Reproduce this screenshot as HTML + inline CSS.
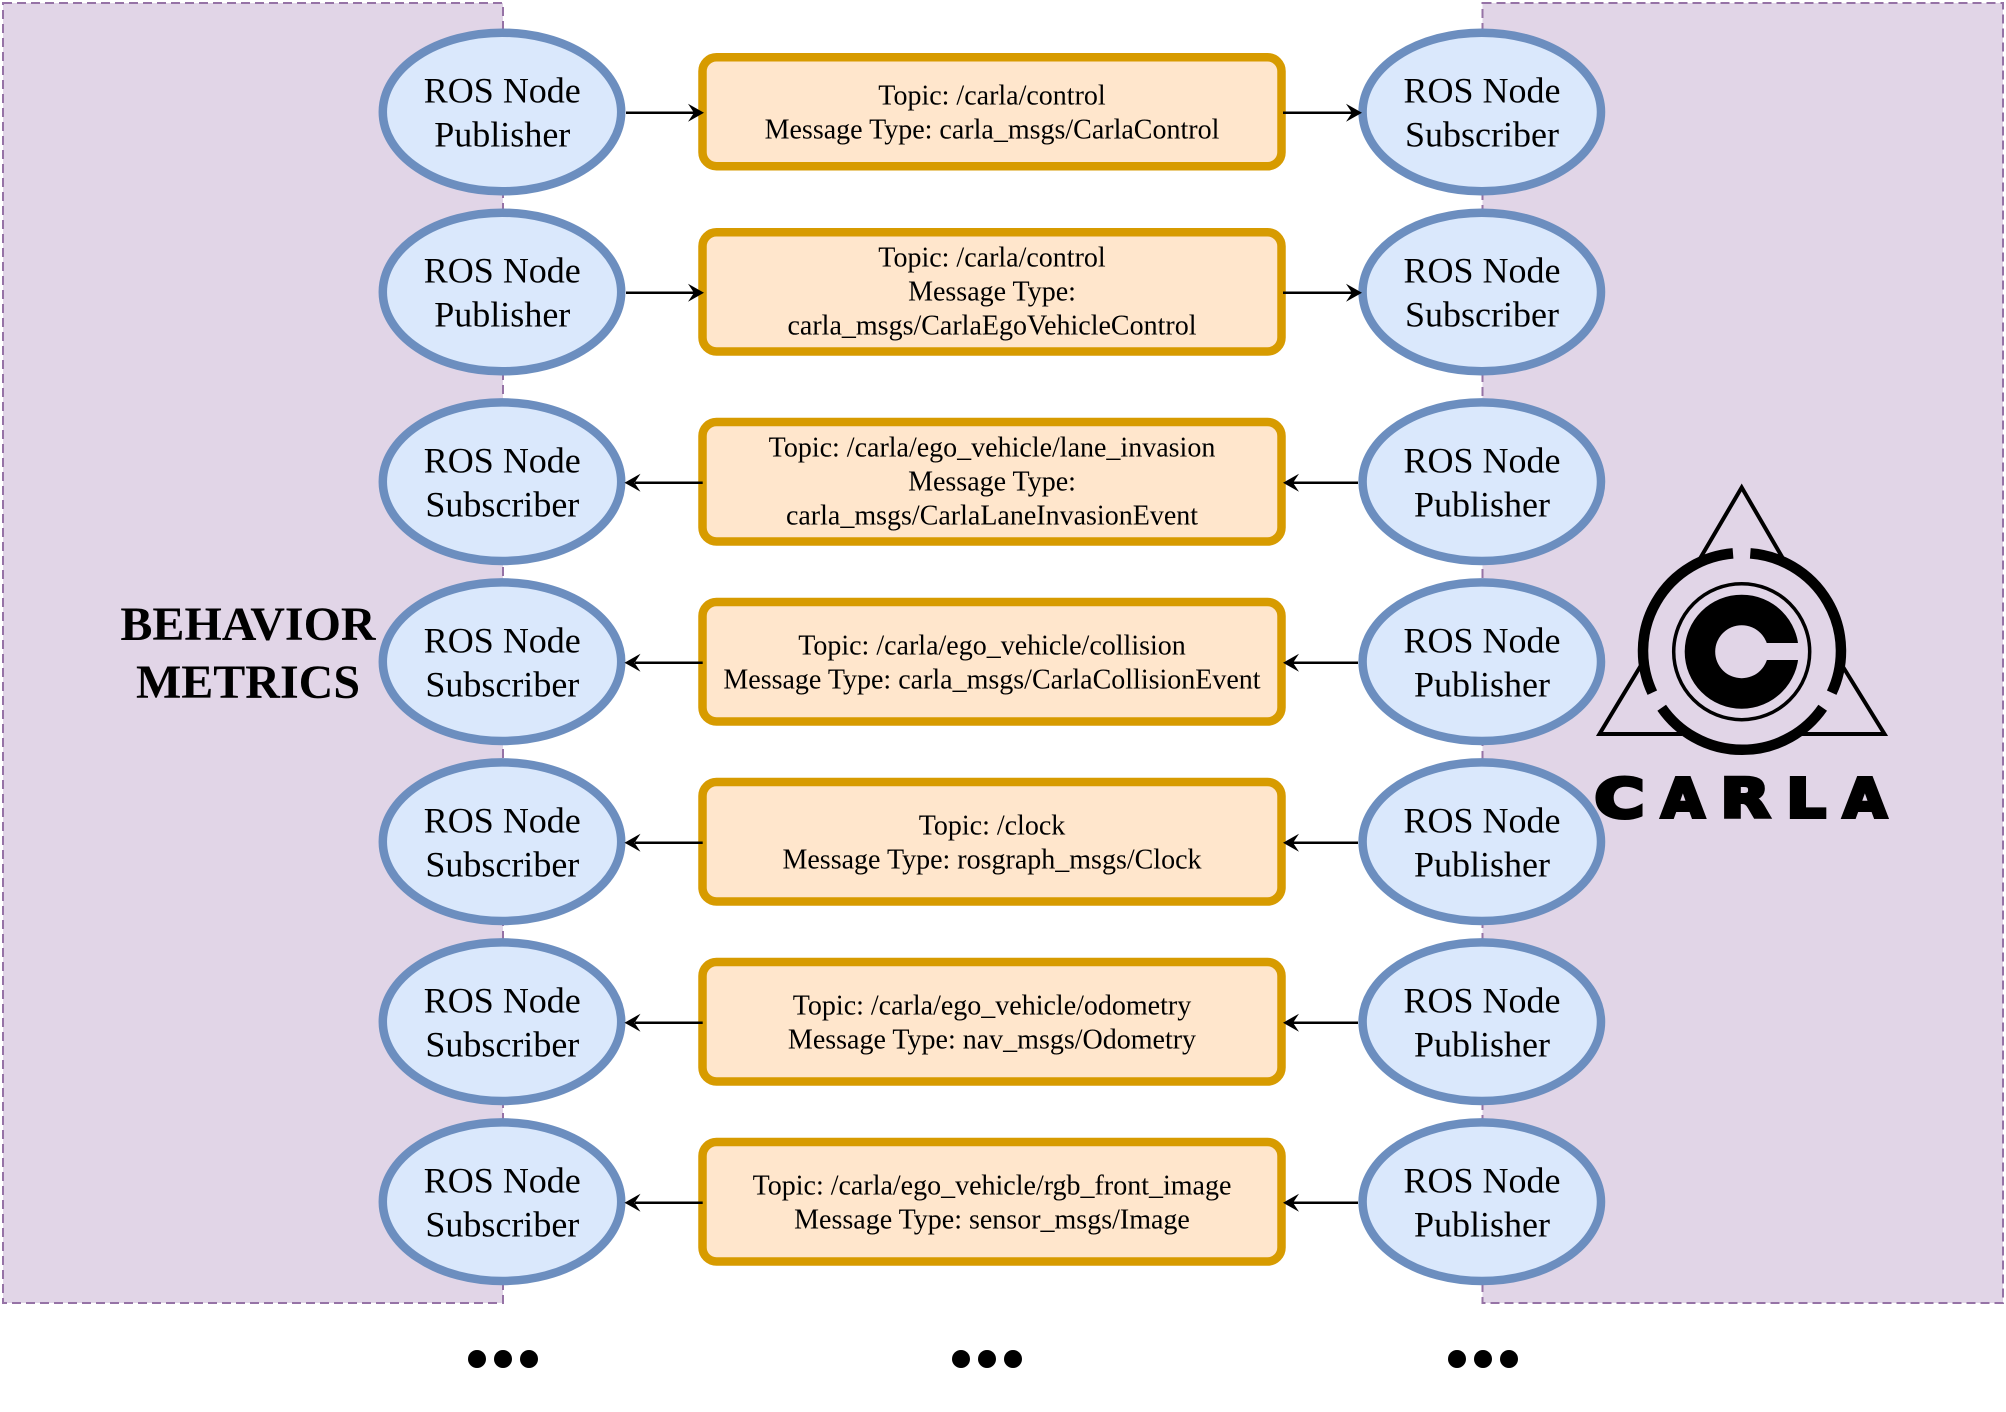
<!DOCTYPE html>
<html><head><meta charset="utf-8"><style>html,body{margin:0;padding:0;background:#fff}svg{display:block}
text{font-family:"Liberation Serif",serif;fill:#000;text-anchor:middle}
.n{font-size:36px}.b{font-size:28px}</style></head><body>
<svg width="2006" height="1412" viewBox="0 0 2006 1412" xmlns="http://www.w3.org/2000/svg">
<defs><g id="e"><ellipse cx="0" cy="0" rx="119.2" ry="79.3" fill="#dae8fc" stroke="#6c8ebf" stroke-width="8.5"/></g>
<path id="ah" d="M0 0 L-16 -9 L-10 0 L-16 9 Z" fill="#000"/></defs>
<rect x="3" y="3" width="500" height="1300" fill="#e1d5e7" stroke="#9673a6" stroke-width="2" stroke-dasharray="9 5"/>
<rect x="1482.5" y="3" width="520.5" height="1300" fill="#e1d5e7" stroke="#9673a6" stroke-width="2" stroke-dasharray="9 5"/>

<!-- ellipses -->
<use href="#e" x="502" y="112"/><use href="#e" x="1481.8" y="112"/>
<use href="#e" x="502" y="292"/><use href="#e" x="1481.8" y="292"/>
<use href="#e" x="502" y="481.7"/><use href="#e" x="1481.8" y="481.7"/>
<use href="#e" x="502" y="661.7"/><use href="#e" x="1481.8" y="661.7"/>
<use href="#e" x="502" y="841.7"/><use href="#e" x="1481.8" y="841.7"/>
<use href="#e" x="502" y="1021.7"/><use href="#e" x="1481.8" y="1021.7"/>
<use href="#e" x="502" y="1201.7"/><use href="#e" x="1481.8" y="1201.7"/>

<!-- boxes -->
<g fill="#ffe6cc" stroke="#d79b00" stroke-width="8.5">
<rect x="702.5" y="57.25" width="579" height="109" rx="14"/>
<rect x="702.5" y="232.25" width="579" height="119.2" rx="14"/>
<rect x="702.5" y="422" width="579" height="119.5" rx="14"/>
<rect x="702.5" y="602" width="579" height="119.5" rx="14"/>
<rect x="702.5" y="782" width="579" height="119.5" rx="14"/>
<rect x="702.5" y="962" width="579" height="119.5" rx="14"/>
<rect x="702.5" y="1142" width="579" height="119.5" rx="14"/>
</g>

<!-- connectors -->
<g stroke="#000" stroke-width="2.5">
<path d="M626 112.7H694M1283 112.7H1352M626 292.7H694M1283 292.7H1352"/>
<path d="M635 482.7H702.7M1293 482.7H1358M635 662.7H702.7M1293 662.7H1358M635 842.7H702.7M1293 842.7H1358M635 1022.7H702.7M1293 1022.7H1358M635 1202.7H702.7M1293 1202.7H1358"/>
</g>
<use href="#ah" transform="translate(704 112.7)"/><use href="#ah" transform="translate(1362 112.7)"/>
<use href="#ah" transform="translate(704 292.7)"/><use href="#ah" transform="translate(1362 292.7)"/>
<use href="#ah" transform="translate(624.5 482.7) rotate(180)"/><use href="#ah" transform="translate(1283 482.7) rotate(180)"/>
<use href="#ah" transform="translate(624.5 662.7) rotate(180)"/><use href="#ah" transform="translate(1283 662.7) rotate(180)"/>
<use href="#ah" transform="translate(624.5 842.7) rotate(180)"/><use href="#ah" transform="translate(1283 842.7) rotate(180)"/>
<use href="#ah" transform="translate(624.5 1022.7) rotate(180)"/><use href="#ah" transform="translate(1283 1022.7) rotate(180)"/>
<use href="#ah" transform="translate(624.5 1202.7) rotate(180)"/><use href="#ah" transform="translate(1283 1202.7) rotate(180)"/>

<!-- ellipse labels -->
<g class="n">
<text x="502.3" y="102.7">ROS Node</text><text x="502.3" y="146.3">Publisher</text>
<text x="1482" y="102.7">ROS Node</text><text x="1482" y="146.3">Subscriber</text>
<text x="502.3" y="282.7">ROS Node</text><text x="502.3" y="326.3">Publisher</text>
<text x="1482" y="282.7">ROS Node</text><text x="1482" y="326.3">Subscriber</text>
<text x="502.3" y="472.7">ROS Node</text><text x="502.3" y="516.3">Subscriber</text>
<text x="1482" y="472.7">ROS Node</text><text x="1482" y="516.3">Publisher</text>
<text x="502.3" y="652.7">ROS Node</text><text x="502.3" y="696.3">Subscriber</text>
<text x="1482" y="652.7">ROS Node</text><text x="1482" y="696.3">Publisher</text>
<text x="502.3" y="832.7">ROS Node</text><text x="502.3" y="876.3">Subscriber</text>
<text x="1482" y="832.7">ROS Node</text><text x="1482" y="876.3">Publisher</text>
<text x="502.3" y="1012.7">ROS Node</text><text x="502.3" y="1056.3">Subscriber</text>
<text x="1482" y="1012.7">ROS Node</text><text x="1482" y="1056.3">Publisher</text>
<text x="502.3" y="1192.7">ROS Node</text><text x="502.3" y="1236.3">Subscriber</text>
<text x="1482" y="1192.7">ROS Node</text><text x="1482" y="1236.3">Publisher</text>
</g>

<!-- box labels -->
<g class="b">
<text x="992" y="104.3">Topic: /carla/control</text><text x="992" y="138.3">Message Type: carla_msgs/CarlaControl</text>
<text x="992" y="266.3">Topic: /carla/control</text><text x="992" y="300.3">Message Type:</text><text x="992" y="334.3">carla_msgs/CarlaEgoVehicleControl</text>
<text x="992" y="456.5">Topic: /carla/ego_vehicle/lane_invasion</text><text x="992" y="490.5">Message Type:</text><text x="992" y="524.5">carla_msgs/CarlaLaneInvasionEvent</text>
<text x="992" y="654.5">Topic: /carla/ego_vehicle/collision</text><text x="992" y="688.5">Message Type: carla_msgs/CarlaCollisionEvent</text>
<text x="992" y="834.5">Topic: /clock</text><text x="992" y="868.5">Message Type: rosgraph_msgs/Clock</text>
<text x="992" y="1014.5">Topic: /carla/ego_vehicle/odometry</text><text x="992" y="1048.5">Message Type: nav_msgs/Odometry</text>
<text x="992" y="1194.3">Topic: /carla/ego_vehicle/rgb_front_image</text><text x="992" y="1228.3">Message Type: sensor_msgs/Image</text>
</g>

<g style="font-size:48px">
<text x="248" y="640" font-weight="bold">BEHAVIOR</text>
<text x="248" y="698" font-weight="bold">METRICS</text>
</g>

<!-- dots -->
<g fill="#000">
<circle cx="477" cy="1359" r="9"/><circle cx="503" cy="1359" r="9"/><circle cx="529" cy="1359" r="9"/>
<circle cx="961" cy="1359" r="9"/><circle cx="987" cy="1359" r="9"/><circle cx="1013" cy="1359" r="9"/>
<circle cx="1457" cy="1359" r="9"/><circle cx="1483" cy="1359" r="9"/><circle cx="1509" cy="1359" r="9"/>
</g>

<!-- CARLA logo -->
<g fill="none" stroke="#000">
<path stroke-width="4" d="M1698 562L1741.7 487.5L1785 562M1643 662L1599.5 734H1682M1802 734H1884.5L1840 662"/>
<g stroke-width="10.5">
<path d="M1733 553.4A98 98 0 0 0 1652.3 692.7"/>
<path d="M1750.3 553.4A98 98 0 0 1 1831.7 692.7"/>
<path d="M1661.7 707.7A98 98 0 0 0 1822.7 707.7"/>
</g>
<circle cx="1741.7" cy="651.7" r="68" stroke-width="3.5"/>
</g>
<circle cx="1741.7" cy="651.7" r="57" fill="#000"/>
<circle cx="1741.7" cy="651.7" r="26.5" fill="#e1d5e7"/>
<rect x="1742" y="643" width="58" height="17" fill="#e1d5e7"/>
<g style="font-family:'DejaVu Sans',sans-serif;font-size:53.5px;font-weight:bold;text-anchor:start;stroke:#000;stroke-width:4;stroke-linejoin:miter">
<text x="1594.6" y="817" textLength="49.7" lengthAdjust="spacingAndGlyphs" style="font-family:'DejaVu Sans',sans-serif;text-anchor:start">C</text>
<text x="1661.7" y="817" textLength="42.5" lengthAdjust="spacingAndGlyphs" style="font-family:'DejaVu Sans',sans-serif;text-anchor:start">A</text>
<text x="1720.6" y="817" textLength="49" lengthAdjust="spacingAndGlyphs" style="font-family:'DejaVu Sans',sans-serif;text-anchor:start">R</text>
<text x="1786.5" y="817" textLength="39.2" lengthAdjust="spacingAndGlyphs" style="font-family:'DejaVu Sans',sans-serif;text-anchor:start">L</text>
<text x="1843.4" y="817" textLength="43" lengthAdjust="spacingAndGlyphs" style="font-family:'DejaVu Sans',sans-serif;text-anchor:start">A</text>
</g>
</svg>
</body></html>
